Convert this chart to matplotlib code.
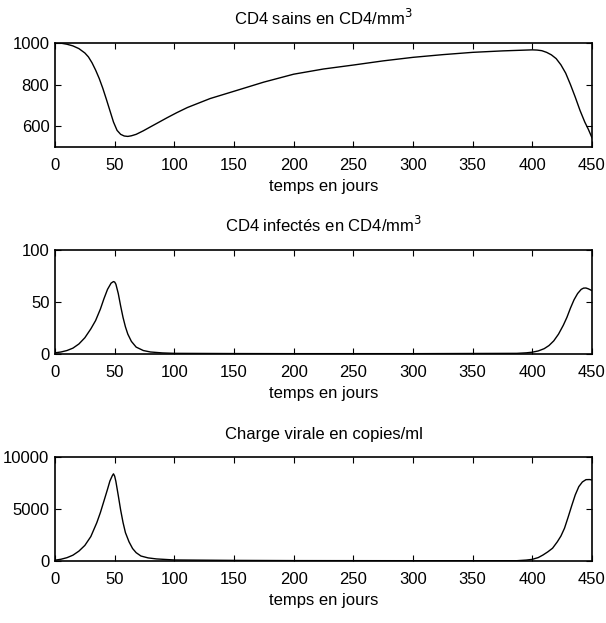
import numpy as np
import matplotlib
matplotlib.use("Agg")
import matplotlib.pyplot as plt

plt.rcParams['font.family'] = ['Liberation Sans', 'DejaVu Sans']
plt.rcParams['font.size'] = 12

# CD4 sains (CD4/mm3)
jours_sains = [0, 5, 10, 15, 20, 25, 28, 31, 34, 37, 40, 43, 46, 49, 52, 55, 58, 61, 64, 68, 74,
               80, 87, 94, 102, 111, 130, 150, 175, 200, 225, 250, 275, 300, 325, 350, 375, 390,
               395, 400, 404, 408, 412, 416, 420, 424, 428, 432, 436, 440, 444, 447, 450]
cd4_sains = [1000, 999, 994, 986, 973, 952, 933, 905, 870, 830, 783, 730, 675, 620, 580, 561, 553,
             551, 554, 561, 578, 597, 619, 641, 665, 690, 733, 768, 812, 850, 875, 894, 914, 931,
             944, 955, 962, 965, 966, 967, 966, 963, 955, 943, 925, 895, 855, 800, 740, 676, 620,
             585, 545]

# CD4 infectes (CD4/mm3)
jours_inf = [0, 5, 10, 15, 20, 25, 30, 34, 38, 41, 44, 47, 49, 50, 51, 53, 55, 57, 59, 61, 64,
             68, 74, 80, 90, 100, 150, 200, 300, 387, 395, 400, 405, 410, 414, 418, 422, 426,
             429, 432, 435, 438, 441, 443, 445, 447, 450]
cd4_inf = [1, 1.8, 3.2, 5.5, 9.5, 15.5, 24, 32, 43, 53, 62, 68, 69.5, 69, 67, 58, 46, 35, 26, 19,
           12, 6.5, 3.2, 1.8, 0.9, 0.5, 0.3, 0.2, 0.2, 0.5, 1, 1.6, 2.8, 5, 8, 12.5, 19, 27.5, 35,
           44, 52, 58, 62, 63.2, 63.3, 62.5, 60.8]

# charge virale (copies/ml)
jours_vir = [0, 5, 10, 15, 20, 25, 30, 35, 38, 41, 44, 46, 48, 49, 50, 51, 53, 55, 57, 59, 62,
             65, 68, 72, 78, 85, 100, 150, 200, 300, 387, 395, 400, 405, 409, 413, 417, 421,
             424, 427, 430, 433, 436, 439, 442, 445, 448, 450]
charge = [80, 170, 320, 560, 950, 1500, 2350, 3680, 4650, 5770, 6900, 7690, 8200, 8380, 8150, 7650,
          6300, 4900, 3700, 2730, 1850, 1200, 800, 480, 300, 200, 100, 60, 40, 30, 30, 90, 160,
          330, 580, 880, 1230, 1850, 2400, 3150, 4200, 5300, 6350, 7150, 7600, 7820, 7830, 7790]

titres = ['CD4 sains en CD4/mm$^3$', 'CD4 infectés en CD4/mm$^3$', 'Charge virale en copies/ml']
xticks = [0, 50, 100, 150, 200, 250, 300, 350, 400, 450]

fig = plt.figure(figsize=(6.06, 6.23), dpi=100)
bottoms = [0.764, 0.432, 0.0995]
series = [(jours_sains, cd4_sains, (500, 1000), [600, 800, 1000]),
          (jours_inf, cd4_inf, (0, 100), [0, 50, 100]),
          (jours_vir, charge, (0, 10000), [0, 5000, 10000])]

for b, (x, y, ylim, yt), titre in zip(bottoms, series, titres):
    ax = fig.add_axes([0.0908, b, 0.886, 0.167])
    ax.plot(x, y, color='black', linewidth=1.0)
    ax.set_xlim(0, 450)
    ax.set_ylim(*ylim)
    ax.set_xticks(xticks)
    ax.set_yticks(yt)
    ax.tick_params(direction='in', length=4, width=0.8, top=True, right=True,
                   labelsize=12, pad=4)
    ax.tick_params(axis='x', pad=8)
    for s in ax.spines.values():
        s.set_linewidth(1.2)
    ax.set_title(titre, fontsize=12, pad=13)
    ax.set_xlabel('temps en jours', fontsize=12, labelpad=4)

fig.savefig('out.png', dpi=100)
